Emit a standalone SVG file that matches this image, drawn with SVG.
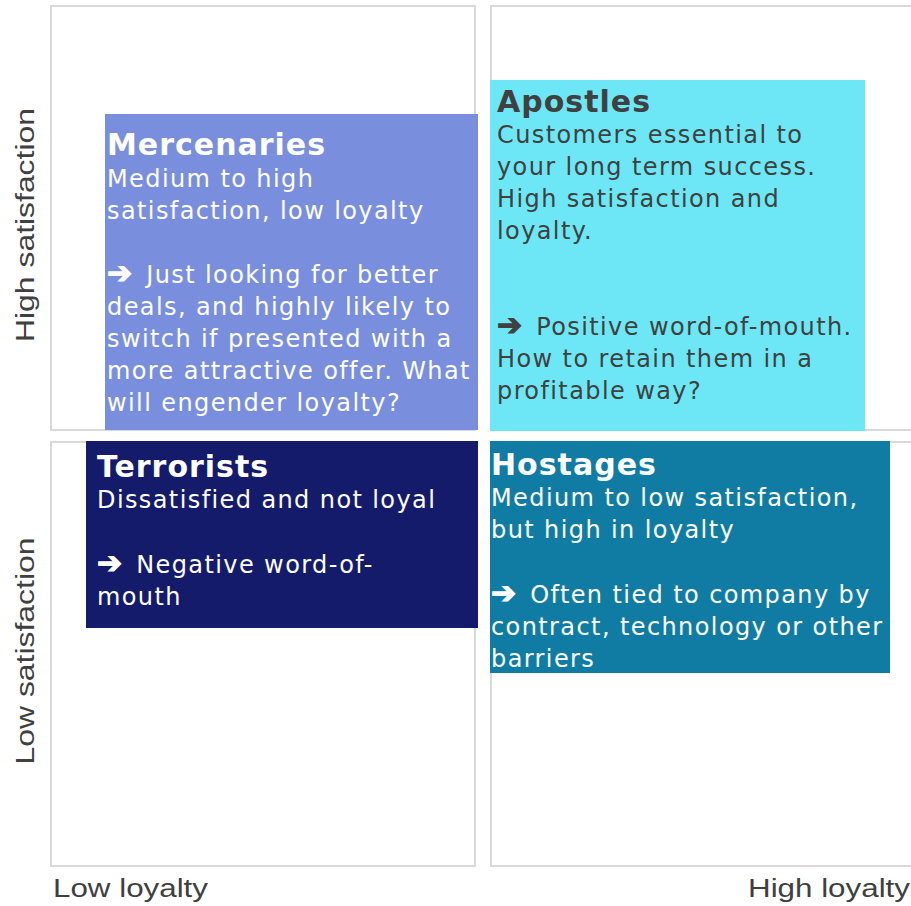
<svg xmlns="http://www.w3.org/2000/svg" width="911" height="906" viewBox="0 0 911 906">
  <style>
    .frame { fill: #ffffff; stroke: #d9d9d9; stroke-width: 2; }
    .axis { font-family: "Liberation Sans", Arial, sans-serif; font-size: 26.5px; fill: #404040; }
    .title { font-family: "DejaVu Sans", Verdana, sans-serif; font-size: 30px; font-weight: bold; letter-spacing: 1px; }
    .body { font-family: "DejaVu Sans", Verdana, sans-serif; font-size: 24px; letter-spacing: 1.4px; }
    .arrow { font-size: 30px; font-weight: bold; letter-spacing: 5px; stroke-width: 1.2px; }
    .light { fill: #ffffff; }
    .light .arrow { stroke: #ffffff; }
    .dark { fill: #404040; }
    .dark .arrow { stroke: #404040; }
  </style>

  <!-- quadrant frames -->
  <g id="quadrants">
    <rect class="frame" x="51" y="6" width="424" height="424"/>
    <rect class="frame" x="491" y="6" width="424" height="424"/>
    <rect class="frame" x="51" y="442" width="424" height="424"/>
    <rect class="frame" x="491" y="442" width="424" height="424"/>
  </g>

  <!-- axis labels -->
  <g id="axes">
    <text class="axis" x="53" y="897" textLength="155" lengthAdjust="spacingAndGlyphs">Low loyalty</text>
    <text class="axis" x="910" y="897" text-anchor="end" textLength="162" lengthAdjust="spacingAndGlyphs">High loyalty</text>
    <text class="axis" transform="translate(34,225) rotate(-90)" text-anchor="middle" textLength="234" lengthAdjust="spacingAndGlyphs">High satisfaction</text>
    <text class="axis" transform="translate(34,651) rotate(-90)" text-anchor="middle" textLength="227" lengthAdjust="spacingAndGlyphs">Low satisfaction</text>
  </g>

  <!-- Mercenaries: high satisfaction, low loyalty -->
  <g id="mercenaries">
    <rect x="105" y="114" width="373" height="316" fill="#7a8ede"/>
    <text class="title light" x="107" y="155">Mercenaries</text>
    <text class="body light" x="107">
      <tspan x="107" y="187">Medium to high</tspan>
      <tspan x="107" y="219">satisfaction, low loyalty</tspan>
      <tspan x="107" y="283"><tspan class="arrow">➔</tspan> Just looking for better</tspan>
      <tspan x="107" y="315">deals, and highly likely to</tspan>
      <tspan x="107" y="347">switch if presented with a</tspan>
      <tspan x="107" y="379">more attractive offer. What</tspan>
      <tspan x="107" y="411">will engender loyalty?</tspan>
    </text>
  </g>

  <!-- Apostles: high satisfaction, high loyalty -->
  <g id="apostles">
    <rect x="490" y="80" width="375" height="351" fill="#6de7f5"/>
    <text class="title dark" x="497" y="112">Apostles</text>
    <text class="body dark" x="497">
      <tspan x="497" y="143">Customers essential to</tspan>
      <tspan x="497" y="175">your long term success.</tspan>
      <tspan x="497" y="207">High satisfaction and</tspan>
      <tspan x="497" y="239">loyalty.</tspan>
      <tspan x="497" y="335"><tspan class="arrow">➔</tspan> Positive word-of-mouth.</tspan>
      <tspan x="497" y="367">How to retain them in a</tspan>
      <tspan x="497" y="399">profitable way?</tspan>
    </text>
  </g>

  <!-- Terrorists: low satisfaction, low loyalty -->
  <g id="terrorists">
    <rect x="86" y="441" width="392" height="187" fill="#151b6b"/>
    <text class="title light" x="97" y="477">Terrorists</text>
    <text class="body light" x="97">
      <tspan x="97" y="508">Dissatisfied and not loyal</tspan>
      <tspan x="97" y="573"><tspan class="arrow">➔</tspan> Negative word-of-</tspan>
      <tspan x="97" y="605">mouth</tspan>
    </text>
  </g>

  <!-- Hostages: low satisfaction, high loyalty -->
  <g id="hostages">
    <rect x="490" y="441" width="400" height="232" fill="#117ca3"/>
    <text class="title light" x="491" y="475">Hostages</text>
    <text class="body light" x="491">
      <tspan x="491" y="506">Medium to low satisfaction,</tspan>
      <tspan x="491" y="538">but high in loyalty</tspan>
      <tspan x="491" y="603"><tspan class="arrow">➔</tspan> Often tied to company by</tspan>
      <tspan x="491" y="635">contract, technology or other</tspan>
      <tspan x="491" y="667">barriers</tspan>
    </text>
  </g>
</svg>
